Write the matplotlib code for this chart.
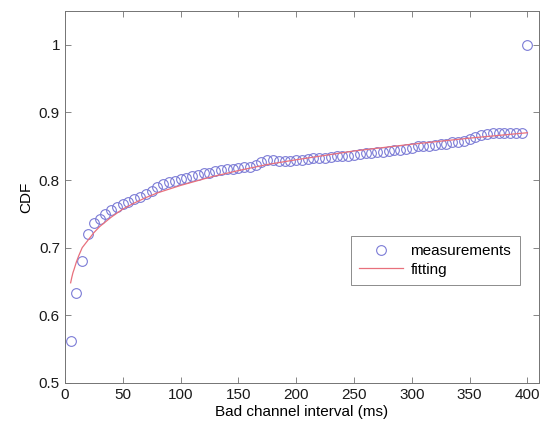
import numpy as np
import matplotlib
matplotlib.use('Agg')
import matplotlib.pyplot as plt

plt.rcParams['font.family'] = ['Liberation Sans', 'DejaVu Sans']

# measured CDF, one point every 5 ms
meas_x = list(range(5, 405, 5))
meas_y = [0.562, 0.633, 0.681, 0.720, 0.736, 0.743, 0.750, 0.755, 0.760, 0.764,
          0.768, 0.772, 0.775, 0.779, 0.784, 0.789, 0.794, 0.797, 0.799, 0.801,
          0.803, 0.806, 0.808, 0.810, 0.811, 0.813, 0.815, 0.816, 0.817, 0.818,
          0.819, 0.820, 0.822, 0.826, 0.829, 0.829, 0.828, 0.828, 0.828, 0.829,
          0.830, 0.831, 0.832, 0.833, 0.833, 0.834, 0.835, 0.835, 0.836, 0.837,
          0.839, 0.840, 0.840, 0.841, 0.842, 0.843, 0.844, 0.845, 0.846, 0.848,
          0.850, 0.851, 0.851, 0.852, 0.853, 0.854, 0.856, 0.857, 0.858, 0.860,
          0.863, 0.866, 0.868, 0.869, 0.870, 0.870, 0.870, 0.870, 0.870, 1.000]

# fitted curve
fit_x = [5, 6, 7, 8, 10, 12, 15, 20, 25, 30, 40, 50, 60, 70, 80, 100, 125,
         150, 175, 200, 250, 300, 350, 400]
fit_y = [0.648, 0.656, 0.663, 0.668, 0.679, 0.688, 0.700, 0.711, 0.722, 0.731,
         0.745, 0.757, 0.766, 0.774, 0.781, 0.792, 0.804, 0.814, 0.823, 0.830,
         0.843, 0.853, 0.862, 0.870]

fig = plt.figure(figsize=(5.45, 4.24), dpi=100)
ax = fig.add_axes([0.119, 0.097, 0.870, 0.877])

ax.plot(meas_x, meas_y, 'o', ms=7, mfc='none', mec='#7b7bd6', mew=0.8,
        label='measurements', zorder=2)
ax.plot(fit_x, fit_y, '-', c='#e8707c', lw=0.9, label='fitting', zorder=3)

ax.set_xlim(0, 410)
ax.set_ylim(0.5, 1.05)
ax.set_xticks(np.arange(0, 401, 50))
ax.set_yticks([0.5, 0.6, 0.7, 0.8, 0.9, 1.0])
ax.set_yticklabels(['0.5', '0.6', '0.7', '0.8', '0.9', '1'])
ax.tick_params(direction='in', length=4, width=0.6, color='0.45',
               top=True, right=True, labelsize=11, labelcolor='0.1')
for s in ax.spines.values():
    s.set_color('0.45')
    s.set_linewidth(0.7)

ax.set_xlabel('Bad channel interval (ms)', fontsize=11, labelpad=2)
ax.set_ylabel('CDF', fontsize=11, labelpad=4)

leg = ax.legend(loc='lower left', bbox_to_anchor=(0.603, 0.263), borderaxespad=0,
                fancybox=False, edgecolor='0.55', framealpha=1, fontsize=11,
                handlelength=2.9, handletextpad=0.45, borderpad=0.55,
                labelspacing=0.3)
leg.get_frame().set_linewidth(0.7)

fig.savefig('out.png', dpi=100)
